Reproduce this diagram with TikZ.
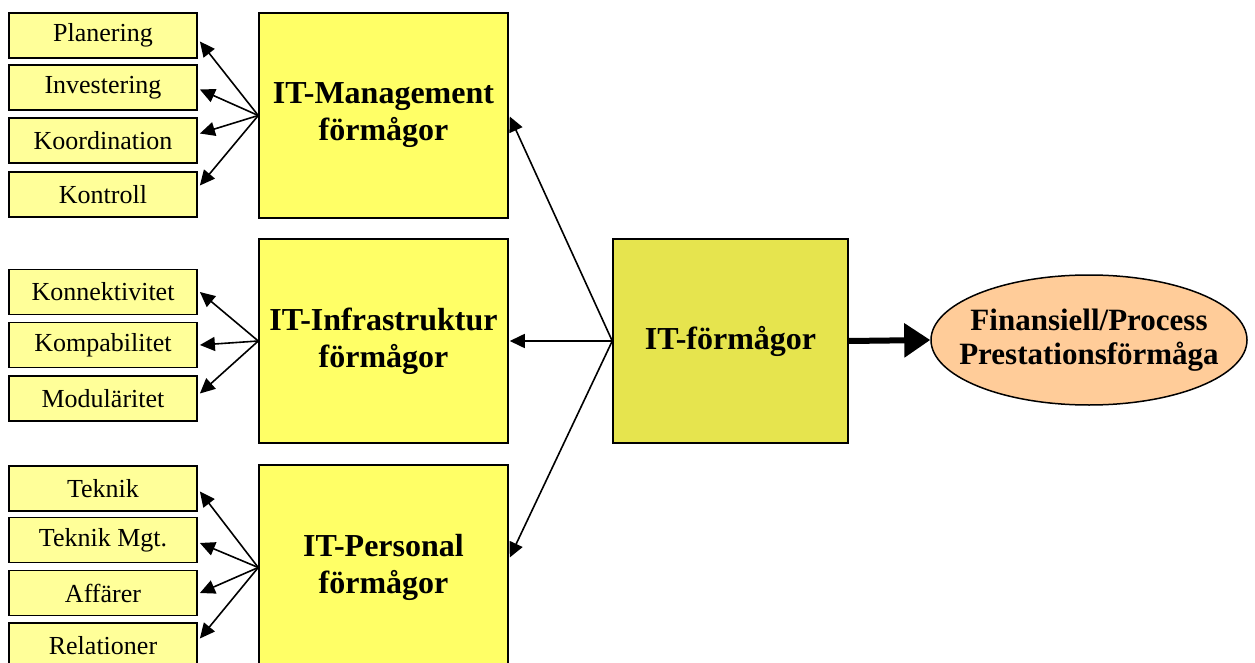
\documentclass[tikz,border=0pt]{standalone}
\usepackage{fontspec}
\setmainfont{Liberation Serif}
\usetikzlibrary{arrows.meta,shapes.geometric,calc}
\definecolor{bigyel}{HTML}{FFFF66}
\definecolor{smallyel}{HTML}{FFFF99}
\definecolor{olive}{HTML}{E6E44E}
\definecolor{peach}{HTML}{FFCC99}
\tikzset{
  smallbox/.style={draw=black, line width=1.8pt, fill=smallyel, minimum width=188pt, minimum height=45pt, inner sep=0pt, font=\fontsize{26}{30}\selectfont},
  bigbox/.style={draw=black, line width=1.5pt, fill=bigyel, minimum width=249pt, minimum height=205pt, inner sep=0pt, align=center, font=\bfseries\fontsize{32}{37}\selectfont},
  centerbox/.style={draw=black, line width=1.5pt, fill=olive, minimum width=235pt, minimum height=204pt, inner sep=0pt, align=center, font=\bfseries\fontsize{32}{37}\selectfont},
  goal/.style={ellipse, draw=black, line width=1.5pt, fill=peach, minimum width=316pt, minimum height=130pt, inner sep=0pt},
  goaltext/.style={inner sep=0pt, align=center, font=\bfseries\fontsize{31}{34}\selectfont},
  thinarrow/.style={line width=1.6pt, -{Triangle[length=15pt,width=14pt]}},
  thickarrow/.style={line width=6pt, -{Triangle[length=26pt,width=33pt]}}
}
\begin{document}
\begin{tikzpicture}[x=1pt,y=-1pt]
\useasboundingbox (0,0) rectangle (1255,663);
\clip (0,0) rectangle (1255,663);
\fill[white] (0,0) rectangle (1255,663);
% small boxes
\node[smallbox] (plan) at (103,35.5) {Planering};
\node[smallbox] (inv) at (103,87.5) {Investering};
\node[smallbox] (koord) at (103,140.5) {Koordination};
\node[smallbox] (kontr) at (103,194.5) {Kontroll};
\node[smallbox] (konn) at (103,292) {Konnektivitet};
\node[smallbox] (komp) at (103,345) {Kompabilitet};
\node[smallbox] (modu) at (103,398.5) {Moduläritet};
\node[smallbox] (tek) at (103,488.5) {Teknik};
\node[smallbox] (tekm) at (103,540) {Teknik Mgt.};
\node[smallbox] (aff) at (103,593) {Affärer};
\node[smallbox] (rel) at (103,645.5) {Relationer};
% big boxes
\node[bigbox] (mgmt) at (383.5,115.5) {IT-Management\\förmågor};
\node[bigbox, minimum height=204pt] (infra) at (383.5,341) {IT-Infrastruktur\\förmågor};
\node[bigbox] (pers) at (383.5,567.5) {IT-Personal\\förmågor};
\node[centerbox] (itf) at (730.5,341) {IT-förmågor};
\node[goal] (fin) at (1089,340) {};
\node[goaltext] (fintext) at (fin.center) {Finansiell/Process\\Prestationsförmåga};
% arrows from IT-förmågor
\draw[thinarrow] (itf.west) -- ([xshift=1pt,yshift=-1pt]mgmt.east);
\draw[thinarrow] (itf.west) -- ([xshift=1pt]infra.east);
\draw[thinarrow] (itf.west) -- ([xshift=1pt,yshift=10pt]pers.east);
\draw[thickarrow] (itf.east) -- (fin.west);
% management subarrows
\draw[thinarrow] (mgmt.west) -- ([xshift=2pt,yshift=-6pt]plan.east);
\draw[thinarrow] (mgmt.west) -- ([xshift=2pt,yshift=-2pt]inv.east);
\draw[thinarrow] (mgmt.west) -- ([xshift=2pt,yshift=7pt]koord.east);
\draw[thinarrow] (mgmt.west) -- ([xshift=2pt,yshift=9pt]kontr.east);
% infrastructure subarrows
\draw[thinarrow] (infra.west) -- ([xshift=2pt]konn.east);
\draw[thinarrow] (infra.west) -- ([xshift=2pt]komp.east);
\draw[thinarrow] (infra.west) -- ([xshift=2pt,yshift=5pt]modu.east);
% personal subarrows
\draw[thinarrow] (pers.west) -- ([xshift=2pt,yshift=-3pt]tek.east);
\draw[thinarrow] (pers.west) -- ([xshift=2pt,yshift=-3pt]tekm.east);
\draw[thinarrow] (pers.west) -- ([xshift=2pt]aff.east);
\draw[thinarrow] (pers.west) -- ([xshift=2pt,yshift=7pt]rel.east);
\end{tikzpicture}
\end{document}
